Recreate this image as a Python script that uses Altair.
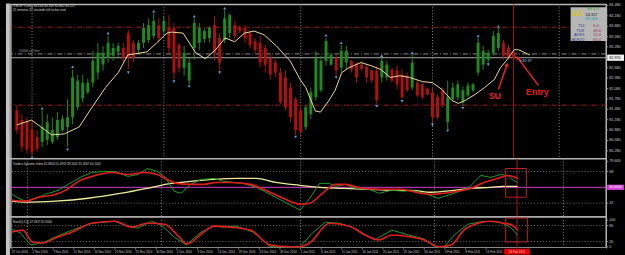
import altair as alt
import pandas as pd

FONT = "Liberation Sans"

# ---------------- main price panel data (USDJPY daily) ----------------
bar_open = [81.45, 81.17, 81.11, 80.88, 80.68, 80.54, 80.60, 80.54, 80.68, 80.88,
            80.97, 81.25, 81.54, 81.80, 81.97, 82.25, 82.54, 82.77, 82.97, 83.03,
            83.14, 83.25, 83.68, 83.40, 83.20, 83.40, 83.48, 83.60, 83.91, 83.74,
            83.83, 83.83, 83.34, 82.68, 82.31, 83.25, 83.40, 83.51, 83.54, 83.91,
            83.54, 83.48, 83.68, 83.91, 83.85, 83.83, 83.68, 83.45, 83.40, 83.25,
            82.97, 82.83, 82.54, 82.40, 82.11, 81.77, 81.45, 80.97, 81.34, 81.83,
            82.03, 82.88, 82.77, 82.97, 82.68, 82.83, 82.88, 82.77, 82.77, 82.71,
            82.60, 82.60, 82.40, 82.40, 82.63, 82.60, 82.48, 82.45, 82.11, 82.25,
            82.20, 82.08, 81.97, 81.83, 82.03, 81.11, 81.77, 81.83, 81.68, 81.88,
            82.03, 82.54, 82.77, 82.91, 83.11, 83.25, 83.40, 83.25, 83.14]
bar_high = [81.60, 81.34, 81.25, 81.17, 80.88, 81.45, 81.34, 81.25, 81.40, 81.31,
            81.77, 82.63, 82.48, 82.48, 82.37, 83.17, 83.40, 83.31, 83.60, 83.40,
            83.40, 83.40, 83.77, 83.48, 83.48, 83.97, 84.11, 84.25, 84.11, 84.17,
            84.20, 83.97, 83.40, 83.31, 82.97, 84.11, 83.97, 83.83, 83.88, 84.17,
            83.68, 84.34, 84.25, 84.03, 83.91, 83.91, 83.74, 83.54, 83.60, 83.34,
            83.11, 82.91, 82.68, 82.60, 82.25, 81.83, 81.54, 81.60, 82.11, 83.17,
            83.03, 83.54, 83.11, 83.05, 83.34, 83.31, 82.91, 82.83, 82.83, 82.77,
            82.63, 82.74, 82.97, 82.88, 82.68, 82.74, 82.63, 82.54, 83.05, 82.34,
            82.25, 82.11, 82.11, 81.91, 82.11, 82.31, 82.25, 82.31, 82.14, 82.25,
            82.25, 83.54, 83.31, 83.20, 83.74, 83.83, 83.48, 83.34, 83.17]
bar_low = [80.77, 80.25, 80.20, 80.11, 80.25, 80.40, 80.45, 80.48, 80.60, 80.83,
           80.40, 81.05, 81.45, 81.68, 81.91, 82.11, 82.34, 82.60, 82.83, 82.88,
           82.97, 82.83, 82.63, 82.83, 83.11, 83.25, 83.40, 83.51, 83.40, 83.63,
           83.11, 82.34, 82.54, 82.45, 82.20, 82.91, 83.20, 83.40, 83.40, 82.88,
           82.60, 83.40, 83.54, 83.48, 83.68, 83.40, 83.25, 83.11, 82.68, 82.54,
           82.34, 82.40, 81.63, 81.45, 81.11, 80.74, 80.68, 80.88, 81.20, 81.74,
           81.97, 82.74, 82.74, 82.45, 82.54, 82.63, 82.54, 82.25, 82.60, 82.25,
           82.25, 81.63, 82.25, 82.31, 82.25, 82.05, 81.77, 81.97, 82.03, 81.83,
           81.77, 81.88, 81.08, 81.20, 81.54, 80.91, 81.74, 81.74, 81.57, 81.83,
           81.97, 82.45, 82.63, 82.83, 83.03, 83.17, 82.91, 82.91, 82.88]
bar_close = [80.88, 80.40, 80.31, 80.25, 80.34, 80.97, 81.11, 80.88, 81.17, 81.20,
             81.25, 82.40, 82.31, 82.25, 82.25, 82.88, 83.11, 83.11, 83.40, 83.25,
             83.31, 82.97, 82.97, 82.97, 83.40, 83.83, 83.91, 84.03, 83.54, 84.03,
             83.25, 82.54, 82.68, 83.11, 82.83, 83.97, 83.83, 83.74, 83.83, 83.11,
             82.83, 84.11, 84.20, 83.60, 83.74, 83.54, 83.34, 83.20, 82.83, 82.77,
             82.48, 82.54, 81.68, 81.54, 81.25, 80.88, 80.83, 81.54, 81.97, 82.97,
             82.88, 83.45, 83.05, 82.60, 83.17, 83.17, 82.63, 82.40, 82.65, 82.40,
             82.31, 81.74, 82.88, 82.77, 82.31, 82.20, 81.83, 82.03, 82.83, 81.88,
             81.83, 81.91, 81.25, 81.25, 81.60, 81.83, 82.11, 82.20, 82.03, 82.17,
             82.20, 83.40, 83.17, 83.11, 83.60, 83.68, 83.03, 82.97, 82.97]

ma_idx = [0, 2.9, 6.9, 9.4, 12.3, 14.2, 17.5, 20.0, 21.9, 25.7, 27.6, 29.6, 30.5,
          32.8, 35.3, 37.2, 39.2, 41.1, 43.0, 44.9, 46.8, 48.8, 51.2, 53.9, 55.9,
          57.0, 58.9, 59.9, 61.6, 62.8, 64.1, 65.5, 67.9, 69.9, 71.8, 73.7, 75.6,
          77.5, 80.0, 82.0, 83.9, 85.8, 87.1, 88.5, 90.4, 92.3, 94.2, 95.4, 96.7,
          98.1, 99.0, 101.2]
ma_val = [81.03, 81.17, 80.74, 80.77, 80.97, 81.40, 82.11, 82.54, 83.05, 83.14,
          83.40, 83.68, 83.71, 83.68, 83.11, 82.94, 83.20, 83.54, 83.43, 83.68,
          83.74, 83.63, 83.31, 82.88, 82.34, 82.11, 81.43, 81.40, 81.74, 82.03,
          82.54, 82.68, 82.83, 82.74, 82.63, 82.40, 82.45, 82.40, 82.28, 82.25,
          82.05, 81.74, 81.65, 81.74, 81.91, 82.11, 82.34, 82.68, 82.91, 83.20,
          83.20, 83.05]

frac_up_idx = [5, 11, 18, 27, 35, 41, 61, 64, 72, 78, 91, 95]
frac_up_val = [81.51, 82.71, 83.68, 84.31, 84.17, 84.40, 83.62, 83.40, 83.03, 83.11, 83.60, 83.88]
frac_dn_idx = [3, 10, 22, 31, 34, 40, 55, 63, 71, 76, 82, 85, 88, 93]
frac_dn_val = [80.06, 80.31, 82.54, 82.28, 82.14, 82.54, 80.68, 82.40, 81.57, 81.71, 81.03, 80.86, 81.51, 82.77]

level_red = [83.85, 81.60]
level_order = 83.08
bid_price = 82.97
month_sep_idx = [3, 29, 56, 82, 107]
current_idx = 98
price_ticks = [84.48, 84.18, 83.88, 83.58, 83.28, 82.68, 82.38, 82.08, 81.78,
               81.48, 81.18, 80.88, 80.58, 80.28]

# annotations (bar index, price)
arrow_from_idx = [95.0, 102.9]
arrow_from_val = [82.05, 82.17]
arrow_to_idx = [96.7, 98.8]
arrow_to_val = [82.77, 82.97]
arrow_angle = [20, 323]
note_text = ["SU", "Entry"]
note_idx = [94.3, 102.7]
note_val = [81.86, 81.98]

header_lines = ["USDJPY,Daily  83.144 83.169 82.882 83.127",
                "25 minutes 37 seconds left to bar end"]
info_labels = ["TDI", "TDR", "ADR5", "ADR20"]
info_values = ["6.0", "49.6", "55.4", "65.4"]

# ---------------- TDI panel ----------------
tdi_green_idx = [0, 1.3, 2.7, 4.6, 6.5, 9.0, 10.9, 13.6, 15.5, 18.0, 20.0, 22.5, 24.4,
                 26.3, 28.2, 29.6, 31.5, 32.8, 34.7, 36.7, 39.2, 41.1, 44.9, 47.4,
                 50.1, 52.6, 55.9, 57.8, 59.7, 61.6, 62.8, 64.7, 66.6, 69.3, 71.2,
                 73.7, 76.2, 77.5, 80.0, 82.7, 85.2, 88.5, 91.0, 92.9, 94.8, 96.2,
                 97.3, 98.1]
tdi_green_val = [42.1, 37.6, 34.3, 37.6, 42.1, 46.6, 53.4, 62.4, 66.9, 68.0, 68.0, 62.4,
                 64.6, 71.4, 68.0, 62.4, 45.5, 43.3, 53.4, 59.0, 60.1, 56.8, 54.5, 50.0,
                 42.1, 34.3, 24.1, 37.6, 54.5, 54.5, 51.1, 53.4, 48.9, 47.8, 43.3, 46.6,
                 45.5, 46.6, 43.3, 37.6, 42.1, 48.9, 63.5, 61.3, 64.6, 63.5, 57.9, 55.6]
tdi_red_idx = [0, 2.7, 5.2, 7.9, 10.4, 12.9, 16.1, 19.4, 22.5, 25.7, 28.2, 30.1, 32.1,
               34.7, 37.2, 39.7, 42.4, 46.3, 48.8, 52.6, 55.9, 57.8, 60.3, 62.8, 64.7,
               67.9, 71.8, 75.6, 77.5, 81.4, 85.2, 89.1, 91.6, 94.2, 96.2, 98.1]
tdi_red_val = [35.4, 34.3, 38.8, 41.0, 46.6, 56.8, 63.5, 66.9, 64.6, 66.9, 64.6, 59.0,
               54.5, 53.4, 53.4, 55.6, 55.6, 53.4, 47.8, 37.6, 30.9, 32.0, 43.3, 53.4,
               53.4, 48.9, 47.8, 47.8, 45.5, 42.1, 44.4, 48.9, 55.6, 60.1, 63.5, 60.1]
tdi_yel_idx = [0, 2.7, 8.4, 14.8, 21.3, 26.3, 30.9, 34.7, 39.2, 43.6, 47.4, 51.2, 55.9,
               59.7, 64.1, 69.3, 73.7, 77.5, 81.4, 85.8, 89.1, 92.9, 95.2, 98.1]
tdi_yel_val = [34.3, 33.1, 34.3, 37.6, 43.3, 48.9, 54.5, 56.8, 59.0, 60.1, 60.1, 55.6,
               52.3, 50.0, 48.9, 47.8, 46.6, 46.6, 44.4, 46.6, 48.9, 50.0, 51.1, 51.1]
tdi_levels = [68, 32]
tdi_mid = 50
tdi_ticks = [79.665, 68, 32]
tdi_tick_text = ["79.665", "68", "32"]
tdi_box = [95.8, 99.8, 71.4, 38.8]
tdi_title = "Traders Dynamic Index 62.8344 55.4953 38.2002 35.2067 60.1002"

# ---------------- Stochastic panel ----------------
st_green_idx = [0, 1.7, 3.6, 6.0, 8.4, 11.7, 15.5, 20.0, 21.9, 24.4, 27.1, 29.0, 31.5,
                33.8, 36.7, 39.2, 41.1, 43.6, 46.8, 50.1, 53.2, 55.9, 58.3, 60.8, 63.5,
                66.0, 70.4, 73.7, 77.0, 80.0, 82.0, 83.9, 85.8, 88.5, 91.6, 94.8, 96.7,
                98.1]
st_green_val = [66.6, 51.8, 7.4, 14.8, 37.0, 62.9, 88.8, 96.2, 81.4, 70.3, 96.2, 81.4,
                37.0, 7.4, 55.5, 77.7, 74.0, 77.7, 55.5, 1.0, 0.5, 1.0, 51.8, 92.5, 88.8,
                74.0, 25.9, 62.9, 44.4, 29.6, 1.0, 1.0, 44.4, 85.1, 96.2, 92.5, 74.0, 44.4]
st_red_idx = [0, 2.1, 4.0, 6.0, 8.4, 11.7, 15.5, 20.0, 23.2, 26.3, 29.6, 32.1, 34.0,
              37.2, 39.2, 42.4, 46.3, 50.1, 53.0, 55.9, 57.8, 61.6, 65.5, 68.5, 71.2,
              73.7, 77.5, 80.0, 82.9, 85.2, 87.7, 90.4, 92.9, 95.4, 97.1, 98.1]
st_red_val = [55.5, 62.9, 18.5, 14.8, 33.3, 55.5, 88.8, 96.2, 74.0, 88.8, 85.1, 44.4,
              11.1, 55.5, 77.7, 74.0, 62.9, 7.4, 1.5, 0.5, 14.8, 88.8, 77.7, 44.4, 25.9,
              44.4, 37.0, 25.9, 0.5, 7.4, 62.9, 88.8, 96.2, 88.8, 81.4, 62.9]
st_levels = [80, 20]
st_ticks = [100, 80, 20, 0]
st_tick_text = ["100", "80", "20", "0"]
st_box = [95.8, 100.0, 108.0, 18.5]
st_title = "Stoch(5,3,3) 47.5827 61.9000"

# ---------------- date strip ----------------
date_labels = ["27 Oct 2010", "2 Nov 2010", "7 Nov 2010", "11 Nov 2010", "16 Nov 2010",
               "21 Nov 2010", "25 Nov 2010", "30 Nov 2010", "5 Dec 2010", "9 Dec 2010",
               "14 Dec 2010", "19 Dec 2010", "23 Dec 2010", "28 Dec 2010", "2 Jan 2011",
               "6 Jan 2011", "11 Jan 2011", "16 Jan 2011", "20 Jan 2011", "25 Jan 2011",
               "30 Jan 2011", "3 Feb 2011", "8 Feb 2011", "13 Feb 2011"]
date_idx = [4 * i for i in range(len(date_labels))]
current_label = "18 Feb 2011"

# ---------------- layout / style ----------------
W = 602
H_MAIN, H_TDI, H_ST, H_DATE = 156, 59, 31, 8
X_DOMAIN = [-0.2, 115.3]
xs = alt.Scale(domain=X_DOMAIN, nice=False, zero=False)
GREEN, RED = "#36c236", "#ee1c1c"
GREEN_W, RED_W = "#1f8a1f", "#b01010"
LBL = "#c8c8c8"
FRAME = "#c4c4c4"


def xq(field):
    return alt.X(field, type="quantitative", scale=xs, axis=None)


def yq(field, scale):
    return alt.Y(field, type="quantitative", scale=scale, axis=None)


def left_frame(h):
    return alt.Chart(pd.DataFrame({"a": [0]})).mark_rect(color=FRAME).encode(
        x=alt.value(-5), x2=alt.value(-1), y=alt.value(-1), y2=alt.value(h + 1))


def price_labels(values, texts, scale):
    df = pd.DataFrame({"v": values, "t": texts})
    ticks = alt.Chart(df).mark_rule(color="#909090", strokeWidth=1).encode(
        x=alt.value(W), x2=alt.value(W + 2), y=yq("v", scale))
    labels = alt.Chart(df).mark_text(color=LBL, fontSize=3.8, font=FONT, align="left",
                                     baseline="middle").encode(
        x=alt.value(W + 3), y=yq("v", scale), text="t:N")
    return [ticks, labels]


# ---- main panel ----
ys_main = alt.Scale(domain=[80.054, 84.51], nice=False, zero=False)
df_bars = pd.DataFrame({"idx": list(range(len(bar_open))), "o": bar_open, "h": bar_high,
                        "l": bar_low, "c": bar_close})
df_bars["dir"] = ["up" if c >= o else "down" for o, c in zip(bar_open, bar_close)]

sep_df = pd.DataFrame({"idx": month_sep_idx})
cur_df = pd.DataFrame({"idx": [current_idx]})

seps = alt.Chart(sep_df).mark_rule(color="#8a8a8a", strokeDash=[1, 2], strokeWidth=1).encode(x=xq("idx"))
cur_line = alt.Chart(cur_df).mark_rule(color="#a01818", strokeWidth=1).encode(x=xq("idx"))

red_lv = alt.Chart(pd.DataFrame({"p": level_red})).mark_rule(
    color="#9a1c1c", strokeDash=[5, 2, 1, 2], strokeWidth=1).encode(y=yq("p", ys_main))
ord_lv = alt.Chart(pd.DataFrame({"p": [level_order]})).mark_rule(
    color="#8c8c8c", strokeDash=[5, 2, 1, 2], strokeWidth=1).encode(y=yq("p", ys_main))
bid_lv = alt.Chart(pd.DataFrame({"p": [bid_price]})).mark_rule(
    color="#a8a8a8", strokeWidth=1).encode(y=yq("p", ys_main))

dir_color = alt.Color("dir:N", scale=alt.Scale(domain=["up", "down"], range=[GREEN_W, RED_W]), legend=None)
dir_color2 = alt.Color("dir:N", scale=alt.Scale(domain=["up", "down"], range=[GREEN, RED]), legend=None)
wicks = alt.Chart(df_bars).mark_rule(strokeWidth=1).encode(
    x=xq("idx"), y=yq("l", ys_main), y2="h:Q", color=dir_color)
bodies = alt.Chart(df_bars).mark_bar(size=3).encode(
    x=xq("idx"), y=yq("o", ys_main), y2="c:Q", color=dir_color2)

ma = alt.Chart(pd.DataFrame({"idx": ma_idx, "v": ma_val})).mark_line(
    color="#eadc98", strokeWidth=1).encode(x=xq("idx"), y=yq("v", ys_main))

fr_up = alt.Chart(pd.DataFrame({"idx": frac_up_idx, "v": frac_up_val})).mark_point(
    shape="triangle-up", filled=True, size=9, color="#5f9fd6", opacity=1).encode(
    x=xq("idx"), y=yq("v", ys_main))
fr_dn = alt.Chart(pd.DataFrame({"idx": frac_dn_idx, "v": frac_dn_val})).mark_point(
    shape="triangle-down", filled=True, size=9, color="#5f9fd6", opacity=1).encode(
    x=xq("idx"), y=yq("v", ys_main))

arr_df = pd.DataFrame({"x0": arrow_from_idx, "y0": arrow_from_val, "x1": arrow_to_idx,
                       "y1": arrow_to_val, "ang": arrow_angle})
arr_lines = alt.Chart(arr_df).mark_rule(color="#e82020", strokeWidth=1.5).encode(
    x=xq("x0"), x2="x1:Q", y=yq("y0", ys_main), y2="y1:Q")
arr_heads = alt.Chart(arr_df).mark_point(shape="triangle-up", filled=True, size=22,
                                         color="#e82020", opacity=1).encode(
    x=xq("x1"), y=yq("y1", ys_main), angle=alt.Angle("ang:Q", scale=None))
notes = alt.Chart(pd.DataFrame({"idx": note_idx, "v": note_val, "t": note_text})).mark_text(
    color="#e02020", fontSize=9, fontWeight="bold", font=FONT, align="center", baseline="middle").encode(
    x=xq("idx"), y=yq("v", ys_main), text="t:N")
timer = alt.Chart(pd.DataFrame({"idx": [current_idx + 1.2], "v": [bid_price - 0.1], "t": ["<35:37"]})).mark_text(
    color="#8fd0f0", fontSize=4, font=FONT, align="left", baseline="middle").encode(
    x=xq("idx"), y=yq("v", ys_main), text="t:N")
sell_txt = alt.Chart(pd.DataFrame({"idx": [0.3], "v": [level_order + 0.02], "t": ["#45664 sell limit"]})).mark_text(
    color="#a0a0a0", fontSize=3, font=FONT, align="left", baseline="bottom").encode(
    x=xq("idx"), y=yq("v", ys_main), text="t:N")

head_layers = []
for i, line in enumerate(header_lines):
    head_layers.append(alt.Chart(pd.DataFrame({"t": [line]})).mark_text(
        color="#d8d8d8", fontSize=3.2, font=FONT, align="left", baseline="middle").encode(
        text="t:N", x=alt.value(2), y=alt.value(2 + 4 * i)))

# info panel (screen overlay)
info = [alt.Chart(pd.DataFrame({"a": [0]})).mark_rect(color="#b6b6b6").encode(
    x=alt.value(566), x2=alt.value(603), y=alt.value(3), y2=alt.value(37))]
for txt, xx, yy, col, fs, fw in [("UJ", 567, 9, "#d8c420", 9, "bold"),
                                 ("83.127", 583, 5, "#18a018", 4, "normal"),
                                 ("53.157", 581, 10.5, "#101010", 4, "normal"),
                                 ("83.008", 581, 15, "#10a0b0", 4, "normal")]:
    info.append(alt.Chart(pd.DataFrame({"t": [txt]})).mark_text(
        color=col, fontSize=fs, fontWeight=fw, font=FONT, align="left", baseline="middle").encode(
        text="t:N", x=alt.value(xx), y=alt.value(yy)))
for i, (lab, val) in enumerate(zip(info_labels, info_values)):
    yy = 22 + 4.7 * i
    info.append(alt.Chart(pd.DataFrame({"t": [lab]})).mark_text(
        color="#2a3a8a", fontSize=4, font=FONT, align="right", baseline="middle").encode(
        text="t:N", x=alt.value(580), y=alt.value(yy)))
    info.append(alt.Chart(pd.DataFrame({"t": [val]})).mark_text(
        color="#a02050", fontSize=4, font=FONT, align="left", baseline="middle").encode(
        text="t:N", x=alt.value(589), y=alt.value(yy)))

bid_df = pd.DataFrame({"p": [bid_price], "p0": [bid_price + 0.09], "p1": [bid_price - 0.09],
                       "t": [f"{bid_price:.3f}"]})
bid_box = alt.Chart(bid_df).mark_rect(color="#f0f0f0").encode(
    x=alt.value(W + 1), x2=alt.value(W + 18), y=yq("p0", ys_main), y2="p1:Q")
bid_txt = alt.Chart(bid_df).mark_text(color="#000000", fontSize=3.8, font=FONT, align="left",
                                      baseline="middle").encode(
    x=alt.value(W + 3), y=yq("p", ys_main), text="t:N")

main = alt.layer(red_lv, ord_lv, bid_lv, seps, cur_line, wicks, bodies, ma, fr_up, fr_dn,
                 arr_lines, arr_heads, notes, timer, sell_txt, *head_layers, *info,
                 *price_labels(price_ticks, [f"{p:.3f}" for p in price_ticks], ys_main),
                 bid_box, bid_txt, left_frame(H_MAIN)).properties(width=W, height=H_MAIN)

# ---- TDI panel ----
ys_tdi = alt.Scale(domain=[16.25, 82.6], nice=False, zero=False)
tdi_lv = alt.Chart(pd.DataFrame({"v": tdi_levels})).mark_rule(
    color="#707070", strokeDash=[1, 2], strokeWidth=1).encode(y=yq("v", ys_tdi))
tdi_mid_l = alt.Chart(pd.DataFrame({"v": [tdi_mid]})).mark_rule(color="#d040d0", strokeWidth=1).encode(
    y=yq("v", ys_tdi))
tdi_y = alt.Chart(pd.DataFrame({"idx": tdi_yel_idx, "v": tdi_yel_val})).mark_line(
    color="#ecec9c", strokeWidth=1.3, interpolate="monotone").encode(x=xq("idx"), y=yq("v", ys_tdi))
tdi_g = alt.Chart(pd.DataFrame({"idx": tdi_green_idx, "v": tdi_green_val})).mark_line(
    color="#1e9a1e", strokeWidth=1).encode(x=xq("idx"), y=yq("v", ys_tdi))
tdi_r = alt.Chart(pd.DataFrame({"idx": tdi_red_idx, "v": tdi_red_val})).mark_line(
    color="#e41c1c", strokeWidth=1.6, interpolate="monotone").encode(x=xq("idx"), y=yq("v", ys_tdi))
tdi_rect = alt.Chart(pd.DataFrame({"x0": [tdi_box[0]], "x1": [tdi_box[1]], "y0": [tdi_box[2]], "y1": [tdi_box[3]]})).mark_rect(
    fillOpacity=0, stroke="#c02020", strokeWidth=1).encode(
    x=xq("x0"), x2="x1:Q", y=yq("y0", ys_tdi), y2="y1:Q")
tdi_t = alt.Chart(pd.DataFrame({"t": [tdi_title]})).mark_text(
    color="#d8d8d8", fontSize=3, font=FONT, align="left", baseline="middle").encode(
    text="t:N", x=alt.value(2), y=alt.value(5))
mid_df = pd.DataFrame({"p": [tdi_mid], "p0": [tdi_mid + 3], "p1": [tdi_mid - 3], "t": ["50.0000"]})
mid_box = alt.Chart(mid_df).mark_rect(color="#d040d0").encode(
    x=alt.value(W + 1), x2=alt.value(W + 18), y=yq("p0", ys_tdi), y2="p1:Q")
mid_txt = alt.Chart(mid_df).mark_text(color="#ffffff", fontSize=3.6, font=FONT, align="left",
                                      baseline="middle").encode(
    x=alt.value(W + 3), y=yq("p", ys_tdi), text="t:N")
tdi = alt.layer(tdi_lv, tdi_mid_l, seps, cur_line, tdi_y, tdi_g, tdi_r, tdi_rect, tdi_t,
                *price_labels(tdi_ticks, tdi_tick_text, ys_tdi),
                mid_box, mid_txt, left_frame(H_TDI)).properties(width=W, height=H_TDI)

# ---- Stochastic panel ----
ys_st = alt.Scale(domain=[-3, 112], nice=False, zero=False)
st_lv = alt.Chart(pd.DataFrame({"v": st_levels})).mark_rule(
    color="#707070", strokeDash=[1, 2], strokeWidth=1).encode(y=yq("v", ys_st))
st_g = alt.Chart(pd.DataFrame({"idx": st_green_idx, "v": st_green_val})).mark_line(
    color="#1e9a1e", strokeWidth=1).encode(x=xq("idx"), y=yq("v", ys_st))
st_r = alt.Chart(pd.DataFrame({"idx": st_red_idx, "v": st_red_val})).mark_line(
    color="#e41c1c", strokeWidth=1.6, interpolate="monotone").encode(x=xq("idx"), y=yq("v", ys_st))
st_rect = alt.Chart(pd.DataFrame({"x0": [st_box[0]], "x1": [st_box[1]], "y0": [st_box[2]], "y1": [st_box[3]]})).mark_rect(
    fillOpacity=0, stroke="#c02020", strokeWidth=1).encode(
    x=xq("x0"), x2="x1:Q", y=yq("y0", ys_st), y2="y1:Q")
st_t = alt.Chart(pd.DataFrame({"t": [st_title]})).mark_text(
    color="#d8d8d8", fontSize=3, font=FONT, align="left", baseline="middle").encode(
    text="t:N", x=alt.value(2), y=alt.value(5))
stoch = alt.layer(st_lv, seps, cur_line, st_g, st_r, st_rect, st_t,
                  *price_labels(st_ticks, st_tick_text, ys_st),
                  left_frame(H_ST)).properties(width=W, height=H_ST)

# ---- date strip ----
d_df = pd.DataFrame({"idx": date_idx, "t": date_labels})
d_txt = alt.Chart(d_df).mark_text(color=LBL, fontSize=3, font=FONT, align="left", baseline="middle").encode(
    x=xq("idx"), y=alt.value(4), text="t:N")
d_tick = alt.Chart(d_df).mark_tick(color="#909090", thickness=1, size=2, orient="vertical").encode(
    x=xq("idx"), y=alt.value(1))
c_df = pd.DataFrame({"x0": [current_idx - 2.5], "x1": [current_idx + 2.5], "idx": [current_idx], "t": [current_label]})
c_box = alt.Chart(c_df).mark_rect(color="#e00000").encode(x=xq("x0"), x2="x1:Q", y=alt.value(1), y2=alt.value(7))
c_txt = alt.Chart(c_df).mark_text(color="#ffd0d0", fontSize=3, font=FONT, align="center", baseline="middle").encode(
    x=xq("idx"), y=alt.value(4), text="t:N")
dates = alt.layer(d_tick, d_txt, c_box, c_txt, left_frame(H_DATE)).properties(
    width=W, height=H_DATE, view=alt.ViewBackground(stroke="transparent"))

chart = alt.vconcat(main, tdi, stoch, dates, spacing=0, bounds="flush").properties(
    background="#000000", padding={"left": 5, "top": 1, "right": 0, "bottom": 0}
).configure_view(stroke="#b4b4b4", strokeWidth=1.5, fill="#000000")

chart.save("out.html", embed_options={"renderer": "svg", "actions": False})
